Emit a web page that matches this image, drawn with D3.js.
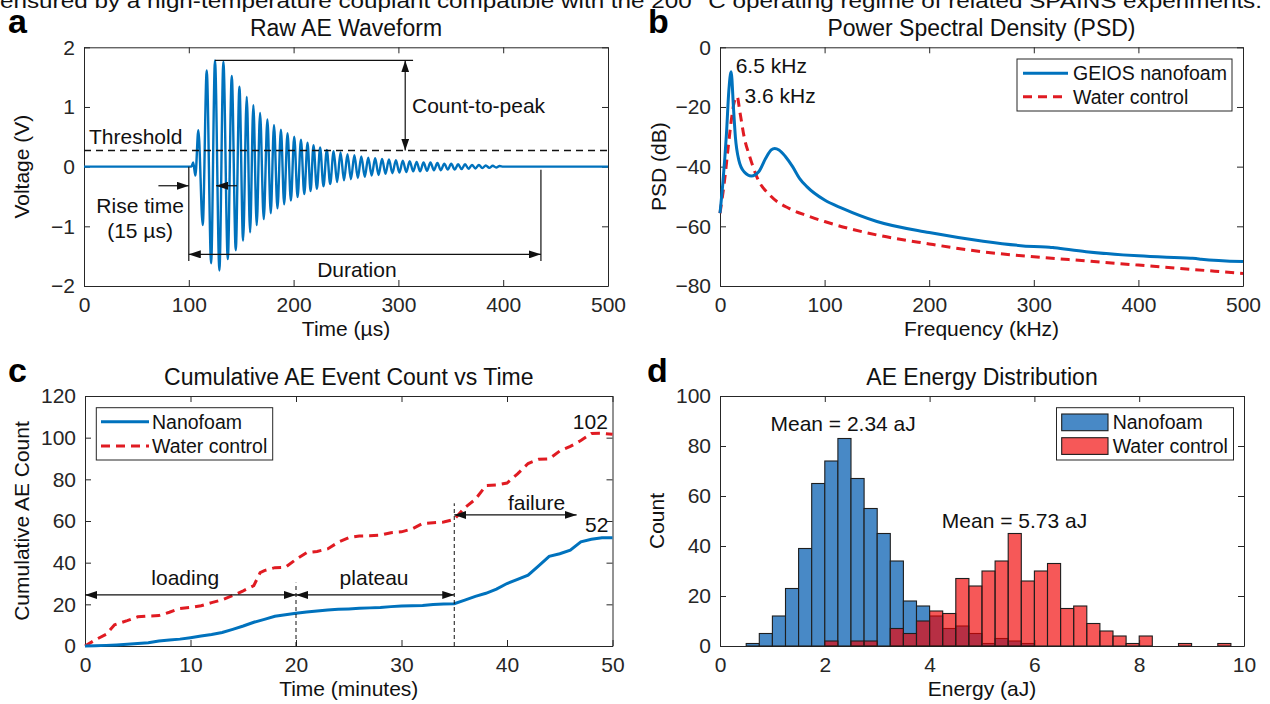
<!DOCTYPE html>
<html>
<head>
<meta charset="utf-8">
<script src="https://cdn.jsdelivr.net/npm/d3@7"></script>
<style>
  body { margin: 0; background: #fff; }
  svg { display: block; }
</style>
</head>
<body>
<svg id="fig" width="1270" height="704"></svg>
<script>
// ---------- data ----------
// (a) raw waveform: extrema of the burst (µs, V)
const waveTime = [0, 100, 102.5, 104.2, 106.3, 109.1, 113.3, 117.1, 121.3, 125.0, 129.2, 133.0, 137.2, 141.0, 144.8,
  148.3, 151.8, 155.3, 158.5, 161.6, 164.8, 168.0, 171.5, 175.0, 178.2, 181.3, 184.6, 187.9, 191.0, 194.2,
  197.4, 200.6, 203.8, 207.0, 210.2, 213.3, 216.2, 219.0, 222.2, 225.3, 228.5, 231.7, 234.9, 238.2, 241.5,
  244.8, 248.1, 251.4, 254.7, 258.0, 261.3, 264.6, 267.9, 271.2, 274.5, 277.8, 281.1, 284.4, 287.7, 291.0,
  294.3, 297.6, 300.9, 304.2, 307.5, 310.8, 314.1, 317.4, 320.7, 324.0, 327.3, 330.6, 333.9, 337.2, 340.5,
  343.8, 347.1, 350.4, 353.7, 357.0, 360.3, 363.6, 366.9, 370.2, 373.5, 376.8, 380.1, 383.4, 386.7, 390.0,
  393.3, 396.6, 400, 500]
const waveVolt = [0, 0, 0, 0.07, -0.15, 0.61, -0.98, 1.61, -1.62, 1.78, -1.74, 1.76, -1.55, 1.52, -1.40,
  1.34, -1.24, 1.17, -1.10, 1.03, -0.98, 0.90, -0.88, 0.79, -0.78, 0.70, -0.70, 0.62, -0.63, 0.56,
  -0.57, 0.50, -0.51, 0.45, -0.46, 0.40, -0.41, 0.36, -0.37, 0.32, -0.33, 0.28, -0.29, 0.26, -0.26,
  0.24, -0.23, 0.21, -0.21, 0.19, -0.19, 0.17, -0.17, 0.15, -0.15, 0.14, -0.14, 0.13, -0.12, 0.12,
  -0.11, 0.11, -0.10, 0.10, -0.09, 0.09, -0.08, 0.08, -0.08, 0.07, -0.07, 0.07, -0.06, 0.06, -0.06,
  0.05, -0.05, 0.05, -0.05, 0.04, -0.04, 0.04, -0.035, 0.03, -0.03, 0.03, -0.025, 0.02, -0.02, 0.015,
  -0.015, 0.01, 0, 0]
const THRESHOLD = 0.27
const waveXTicks = [0, 100, 200, 300, 400, 500]
const waveYTicks = [-2, -1, 0, 1, 2]

// (b) power spectral density (kHz, dB)
const nanoFreq = [0, 2.7, 6.2, 8.5, 10.6, 13, 14.7, 18, 23, 30, 37, 43.7, 49, 52.3, 56.4, 62.5, 69.4, 76, 83,
  100, 117, 150, 200, 250, 300, 315, 320, 350, 400, 450, 455, 460, 500]
const nanoDb = [-55.6, -45.6, -28.8, -14.3, -8.2, -21, -30, -37.8, -41.7, -43.1, -41.7, -37.2, -34.4, -33.9,
  -34.4, -36.6, -40, -43.9, -46.7, -51.2, -54, -58.4, -62.1, -64.9, -66.8, -67.0, -67.2, -68.5, -69.9,
  -70.7, -70.8, -71.0, -71.8]
const waterFreq = [0, 4.4, 7.9, 11.3, 13.7, 16.4, 19, 23, 28.4, 35.2, 49, 66, 83, 100, 150, 200, 250, 300,
  350, 400, 450, 500]
const waterDb = [-55.6, -44.5, -33.3, -23.2, -18.2, -16.5, -21.6, -29.9, -36.6, -43.4, -50, -54, -56.4,
  -58.4, -62.9, -65.9, -68.5, -70.2, -71.6, -73, -74.4, -75.8]
const psdXTicks = [0, 100, 200, 300, 400, 500]
const psdYTicks = [-80, -60, -40, -20, 0]

// (c) cumulative AE count (minutes, count)
const nanoMinutes = d3.range(0, 51)
const nanoCount = [0, 0.1, 0.3, 0.5, 0.8, 1.2, 1.6, 2.4, 2.9, 3.3, 4.0, 4.8, 5.5, 6.5, 8.0, 9.6, 11.4, 12.8,
  14.3, 15.0, 15.7, 16.3, 16.8, 17.3, 17.6, 17.8, 18.1, 18.3, 18.5, 18.9, 19.2, 19.3, 19.4, 19.9, 20.2,
  20.3, 22.0, 23.8, 25.3, 27.3, 30.0, 32.0, 34.0, 38.5, 43.0, 44.3, 46.0, 50.0, 51.2, 52.0, 52.0]
const waterMinutes = [0, 1, 2, 2.8, 4, 5, 6, 7, 8, 9, 10, 11, 12, 13, 14, 15, 16, 16.6, 17, 18, 19, 20, 21,
  22, 23, 24, 25, 26, 27, 28, 29, 30, 31, 32, 33, 34, 35, 36, 37, 38, 39, 40, 41, 42, 43, 44, 45, 46, 47,
  48, 49, 50]
const waterCount = [0, 3.0, 5.6, 10.2, 12.2, 14.0, 14.4, 14.6, 16.2, 18.0, 18.5, 19.3, 20.8, 22.2, 24.2,
  26.5, 29.0, 35.2, 36.2, 37.6, 37.8, 41.6, 44.8, 45.4, 46.6, 49.8, 52.0, 52.8, 52.9, 53.2, 54.4, 54.8,
  56.2, 58.8, 59.2, 59.5, 60.8, 66.4, 70.4, 77.0, 77.3, 78.2, 82.6, 87.6, 89.6, 89.8, 93.6, 95.8, 98.6,
  102.0, 102.1, 101.6]
const cumXTicks = [0, 10, 20, 30, 40, 50]
const cumYTicks = [0, 20, 40, 60, 80, 100, 120]

// (d) energy histogram (aJ)
const BIN_WIDTH = 0.25
const binStart = [0.5, 0.75, 1, 1.25, 1.5, 1.75, 2, 2.25, 2.5, 2.75, 3, 3.25, 3.5, 3.75, 4, 4.25, 4.5, 4.75,
  5, 5.25, 5.5, 5.75, 6, 6.25, 6.5, 6.75, 7, 7.25, 7.5, 7.75, 8, 8.25, 8.5, 8.75, 9, 9.25, 9.5]
const histNano = [1, 5, 12, 23, 39, 65, 74, 83, 67, 55, 45, 34, 18, 16, 12, 7, 8, 5, 1, 3, 2, 1, 0, 0, 0, 0,
  0, 0, 0, 0, 0, 0, 0, 0, 0, 0, 0]
const histWater = [0, 0, 0, 0, 0, 0, 2, 0, 2, 2, 0, 7, 5, 10, 14, 13, 27, 24, 30, 34, 45, 26, 30, 33, 15, 16,
  9, 6, 4, 1, 4, 0, 0, 1, 0, 0, 1]
const histXTicks = [0, 2, 4, 6, 8, 10]
const histYTicks = [0, 20, 40, 60, 80, 100]

// ---------- layout ----------
const FONT = "'Liberation Sans', Arial, Helvetica, sans-serif"
const INK = "#262626"
const BLUE = "#0072bd"
const RED = "#e01b22"
const HIST_BLUE = "#4889c6"
const HIST_RED = "#f20000"
const FS = 21
const LEGEND_FS = 19.5

const BOX_A = { left: 84, right: 608, top: 47.3, bottom: 286 }
const BOX_B = { left: 720, right: 1243, top: 47.3, bottom: 286 }
const BOX_C = { left: 85, right: 612.5, top: 396, bottom: 646 }
const BOX_D = { left: 720, right: 1244, top: 396, bottom: 646 }

const svg = d3.select("#fig")

const defs = svg.append("defs")
defs.append("marker")
    .attr("id", "head")
    .attr("viewBox", "0 0 12 8")
    .attr("refX", 12)
    .attr("refY", 4)
    .attr("markerWidth", 12)
    .attr("markerHeight", 8)
    .attr("markerUnits", "userSpaceOnUse")
    .attr("orient", "auto-start-reverse")
    .append("path")
    .attr("d", "M0,0L12,4L0,8z")
    .attr("fill", "#111")

function text(g, x, y, str, opts = {}) {
  return g.append("text")
          .attr("x", x)
          .attr("y", y)
          .attr("font-family", FONT)
          .attr("font-size", opts.size || FS)
          .attr("font-weight", opts.weight || "normal")
          .attr("text-anchor", opts.anchor || "start")
          .attr("fill", opts.fill || "#111")
          .text(str)
}

function arrow(g, x1, y1, x2, y2, both) {
  const a = g.append("line")
             .attr("x1", x1).attr("y1", y1)
             .attr("x2", x2).attr("y2", y2)
             .attr("stroke", "#111")
             .attr("stroke-width", 1.2)
             .attr("marker-end", "url(#head)")
  if (both) a.attr("marker-start", "url(#head)")
  return a
}

function makePanel(box, xDomain, yDomain) {
  const w = box.right - box.left
  const h = box.bottom - box.top
  const g = svg.append("g").attr("transform", `translate(${box.left},${box.top})`)
  const x = d3.scaleLinear().domain(xDomain).range([0, w])
  const y = d3.scaleLinear().domain(yDomain).range([h, 0])
  return { g, w, h, x, y }
}

function styleAxis(sel) {
  sel.attr("font-size", FS).attr("font-family", FONT)
  sel.selectAll("path, line").attr("stroke", INK).attr("stroke-width", 1)
  sel.selectAll("text").attr("fill", INK)
}

function drawAxes(p, xTicks, yTicks) {
  const fmt = d3.format("d")
  p.g.append("g")
     .attr("transform", `translate(0,${p.h})`)
     .call(d3.axisBottom(p.x).tickValues(xTicks).tickFormat(fmt)
             .tickSizeInner(-6).tickSizeOuter(0).tickPadding(11.5))
     .call(styleAxis)
  p.g.append("g")
     .call(d3.axisTop(p.x).tickValues(xTicks).tickSizeInner(-6).tickSizeOuter(0).tickFormat(""))
     .call(styleAxis)
  p.g.append("g")
     .call(d3.axisLeft(p.y).tickValues(yTicks).tickFormat(fmt)
             .tickSizeInner(-6).tickSizeOuter(0).tickPadding(9))
     .call(styleAxis)
  p.g.append("g")
     .attr("transform", `translate(${p.w},0)`)
     .call(d3.axisRight(p.y).tickValues(yTicks).tickSizeInner(-6).tickSizeOuter(0).tickFormat(""))
     .call(styleAxis)
}

function decorate(p, box, title, xLabel, yLabel, yLabelX, letter, letterX) {
  text(p.g, p.w / 2, -11.5, title, { size: 23, anchor: "middle" })
  text(p.g, p.w / 2, p.h + 50, xLabel, { anchor: "middle" })
  text(svg, 0, 0, yLabel, { anchor: "middle" })
    .attr("transform", `translate(${yLabelX},${(box.top + box.bottom) / 2}) rotate(-90)`)
  text(svg, letterX, box.top - 14, letter, { size: 34, weight: "bold", fill: "#000" })
}

// cut-off line of body text above the figure
text(svg, 0, 8, "ensured by a high-temperature couplant compatible with the 200 °C operating regime of related SPAINS experiments.", { fill: "#111" })
  .attr("textLength", 1262)
  .attr("lengthAdjust", "spacingAndGlyphs")

// ---------- (a) raw waveform ----------
function drawWaveform() {
  const p = makePanel(BOX_A, [0, 500], [-2, 2])
  drawAxes(p, waveXTicks, waveYTicks)
  decorate(p, BOX_A, "Raw AE Waveform", "Time (µs)", "Voltage (V)", 29, "a", 8)

  const pts = waveTime.map((t, i) => [t, waveVolt[i]])
  p.g.append("path")
     .datum(pts)
     .attr("fill", "none")
     .attr("stroke", BLUE)
     .attr("stroke-width", 2.4)
     .attr("d", d3.line().x(d => p.x(d[0])).y(d => p.y(d[1])).curve(d3.curveMonotoneX))

  p.g.append("line")
     .attr("x1", p.x(0)).attr("x2", p.x(500))
     .attr("y1", p.y(THRESHOLD)).attr("y2", p.y(THRESHOLD))
     .attr("stroke", "#111").attr("stroke-width", 1.6).attr("stroke-dasharray", "7,5")
  text(p.g, p.x(4.8), p.y(0.38), "Threshold")

  // count-to-peak
  p.g.append("line")
     .attr("x1", p.x(125)).attr("x2", p.x(314))
     .attr("y1", p.y(1.78)).attr("y2", p.y(1.78))
     .attr("stroke", "#111").attr("stroke-width", 1.2)
  arrow(p.g, p.x(306.5), p.y(1.78), p.x(306.5), p.y(THRESHOLD), true)
  text(p.g, p.x(313), p.y(0.9), "Count-to-peak")

  // rise time
  arrow(p.g, p.x(71), p.y(-0.32), p.x(100), p.y(-0.32))
  arrow(p.g, p.x(146), p.y(-0.32), p.x(126), p.y(-0.32))
  text(p.g, p.x(53.5), p.y(-0.775), "Rise time", { anchor: "middle" })
  text(p.g, p.x(53.5), p.y(-1.2), "(15 µs)", { anchor: "middle" })

  // duration
  p.g.append("line")
     .attr("x1", p.x(100)).attr("x2", p.x(100))
     .attr("y1", p.y(0)).attr("y2", p.y(-1.58))
     .attr("stroke", "#111").attr("stroke-width", 1.2)
  p.g.append("line")
     .attr("x1", p.x(436)).attr("x2", p.x(436))
     .attr("y1", p.y(-0.05)).attr("y2", p.y(-1.58))
     .attr("stroke", "#111").attr("stroke-width", 1.2)
  arrow(p.g, p.x(100), p.y(-1.47), p.x(436), p.y(-1.47), true)
  text(p.g, p.x(260.4), p.y(-1.85), "Duration", { anchor: "middle" })
}

// ---------- (b) PSD ----------
function drawPsd() {
  const p = makePanel(BOX_B, [0, 500], [-80, 0])
  drawAxes(p, psdXTicks, psdYTicks)
  decorate(p, BOX_B, "Power Spectral Density (PSD)", "Frequency (kHz)", "PSD (dB)", 666, "b", 648)

  const line = d3.line().x(d => p.x(d[0])).y(d => p.y(d[1])).curve(d3.curveMonotoneX)
  p.g.append("path")
     .datum(waterFreq.map((f, i) => [f, waterDb[i]]))
     .attr("fill", "none").attr("stroke", RED).attr("stroke-width", 3).attr("stroke-dasharray", "9,6")
     .attr("d", line)
  p.g.append("path")
     .datum(nanoFreq.map((f, i) => [f, nanoDb[i]]))
     .attr("fill", "none").attr("stroke", BLUE).attr("stroke-width", 3)
     .attr("d", line)

  text(p.g, p.x(15), p.y(-8.6), "6.5 kHz")
  text(p.g, p.x(23.5), p.y(-18.7), "3.6 kHz")

  // legend
  const lg = svg.append("g")
  lg.append("rect").attr("x", 1017).attr("y", 59).attr("width", 215).attr("height", 52)
    .attr("fill", "#fff").attr("stroke", INK).attr("stroke-width", 1)
  lg.append("line").attr("x1", 1023).attr("x2", 1068).attr("y1", 73.3).attr("y2", 73.3)
    .attr("stroke", BLUE).attr("stroke-width", 3)
  lg.append("line").attr("x1", 1023).attr("x2", 1068).attr("y1", 96.7).attr("y2", 96.7)
    .attr("stroke", RED).attr("stroke-width", 3).attr("stroke-dasharray", "9,6")
  text(lg, 1073, 80.3, "GEIOS nanofoam", { size: LEGEND_FS })
  text(lg, 1073, 103.7, "Water control", { size: LEGEND_FS })
}

// ---------- (c) cumulative count ----------
function drawCumulative() {
  const p = makePanel(BOX_C, [0, 50], [0, 120])
  drawAxes(p, cumXTicks, cumYTicks)
  decorate(p, BOX_C, "Cumulative AE Event Count vs Time", "Time (minutes)", "Cumulative AE Count", 29, "c", 8)

  const line = d3.line().x(d => p.x(d[0])).y(d => p.y(d[1]))
  p.g.append("path")
     .datum(waterMinutes.map((t, i) => [t, waterCount[i]]))
     .attr("fill", "none").attr("stroke", RED).attr("stroke-width", 3).attr("stroke-dasharray", "9,6")
     .attr("d", line)
  p.g.append("path")
     .datum(nanoMinutes.map((t, i) => [t, nanoCount[i]]))
     .attr("fill", "none").attr("stroke", BLUE).attr("stroke-width", 3)
     .attr("d", line)

  // phase markers
  ;[[20, 30.4], [35, 68.5]].forEach(([t, top]) => {
    p.g.append("line")
       .attr("x1", p.x(t)).attr("x2", p.x(t))
       .attr("y1", p.y(0)).attr("y2", p.y(top))
       .attr("stroke", "#111").attr("stroke-width", 1).attr("stroke-dasharray", "4,3")
  })
  arrow(p.g, p.x(0), p.y(24.5), p.x(20), p.y(24.5), true)
  arrow(p.g, p.x(20), p.y(24.5), p.x(35), p.y(24.5), true)
  arrow(p.g, p.x(35), p.y(62.9), p.x(46.6), p.y(62.9), true)
  text(p.g, p.x(9.5), p.y(29.3), "loading", { anchor: "middle" })
  text(p.g, p.x(27.4), p.y(29.3), "plateau", { anchor: "middle" })
  text(p.g, p.x(42.8), p.y(65.3), "failure", { anchor: "middle" })
  text(p.g, p.x(47.9), p.y(104.2), "102", { anchor: "middle" })
  text(p.g, p.x(48.5), p.y(54.7), "52", { anchor: "middle" })

  const lg = svg.append("g")
  lg.append("rect").attr("x", 96.3).attr("y", 407.7).attr("width", 176.4).attr("height", 52.3)
    .attr("fill", "#fff").attr("stroke", INK).attr("stroke-width", 1)
  lg.append("line").attr("x1", 101).attr("x2", 149).attr("y1", 421.7).attr("y2", 421.7)
    .attr("stroke", BLUE).attr("stroke-width", 3)
  lg.append("line").attr("x1", 101).attr("x2", 149).attr("y1", 446).attr("y2", 446)
    .attr("stroke", RED).attr("stroke-width", 3).attr("stroke-dasharray", "9,6")
  text(lg, 152, 428.7, "Nanofoam", { size: LEGEND_FS })
  text(lg, 152, 453, "Water control", { size: LEGEND_FS })
}

// ---------- (d) energy histogram ----------
function drawHistogram() {
  const p = makePanel(BOX_D, [0, 10], [0, 100])
  drawAxes(p, histXTicks, histYTicks)
  decorate(p, BOX_D, "AE Energy Distribution", "Energy (aJ)", "Count", 664, "d", 647)

  const bars = (counts, fill, opacity) => {
    const data = binStart.map((b, i) => ({ b, n: counts[i] })).filter(d => d.n > 0)
    p.g.append("g")
       .selectAll("rect")
       .data(data)
       .enter()
       .append("rect")
       .attr("x", d => p.x(d.b))
       .attr("width", d => p.x(d.b + BIN_WIDTH) - p.x(d.b))
       .attr("y", d => p.y(d.n))
       .attr("height", d => p.y(0) - p.y(d.n))
       .attr("fill", fill)
       .attr("fill-opacity", opacity)
       .attr("stroke", "#1e1e1e")
       .attr("stroke-width", 1.1)
  }
  bars(histNano, HIST_BLUE, 1)
  bars(histWater, HIST_RED, 0.655)

  text(p.g, p.x(2.35), p.y(86), "Mean = 2.34 aJ", { anchor: "middle" })
  text(p.g, p.x(5.62), p.y(47.2), "Mean = 5.73 aJ", { anchor: "middle" })

  const lg = svg.append("g")
  lg.append("rect").attr("x", 1056.5).attr("y", 407.7).attr("width", 177).attr("height", 52.3)
    .attr("fill", "#fff").attr("stroke", INK).attr("stroke-width", 1)
  lg.append("rect").attr("x", 1061.7).attr("y", 414).attr("width", 46.3).attr("height", 16.7)
    .attr("fill", HIST_BLUE).attr("stroke", "#1e1e1e").attr("stroke-width", 1.1)
  lg.append("rect").attr("x", 1061.7).attr("y", 437.7).attr("width", 46.3).attr("height", 16.7)
    .attr("fill", HIST_RED).attr("fill-opacity", 0.655).attr("stroke", "#1e1e1e").attr("stroke-width", 1.1)
  text(lg, 1112.7, 429, "Nanofoam", { size: LEGEND_FS })
  text(lg, 1112.7, 453, "Water control", { size: LEGEND_FS })
}

drawWaveform()
drawPsd()
drawCumulative()
drawHistogram()
</script>
</body>
</html>
